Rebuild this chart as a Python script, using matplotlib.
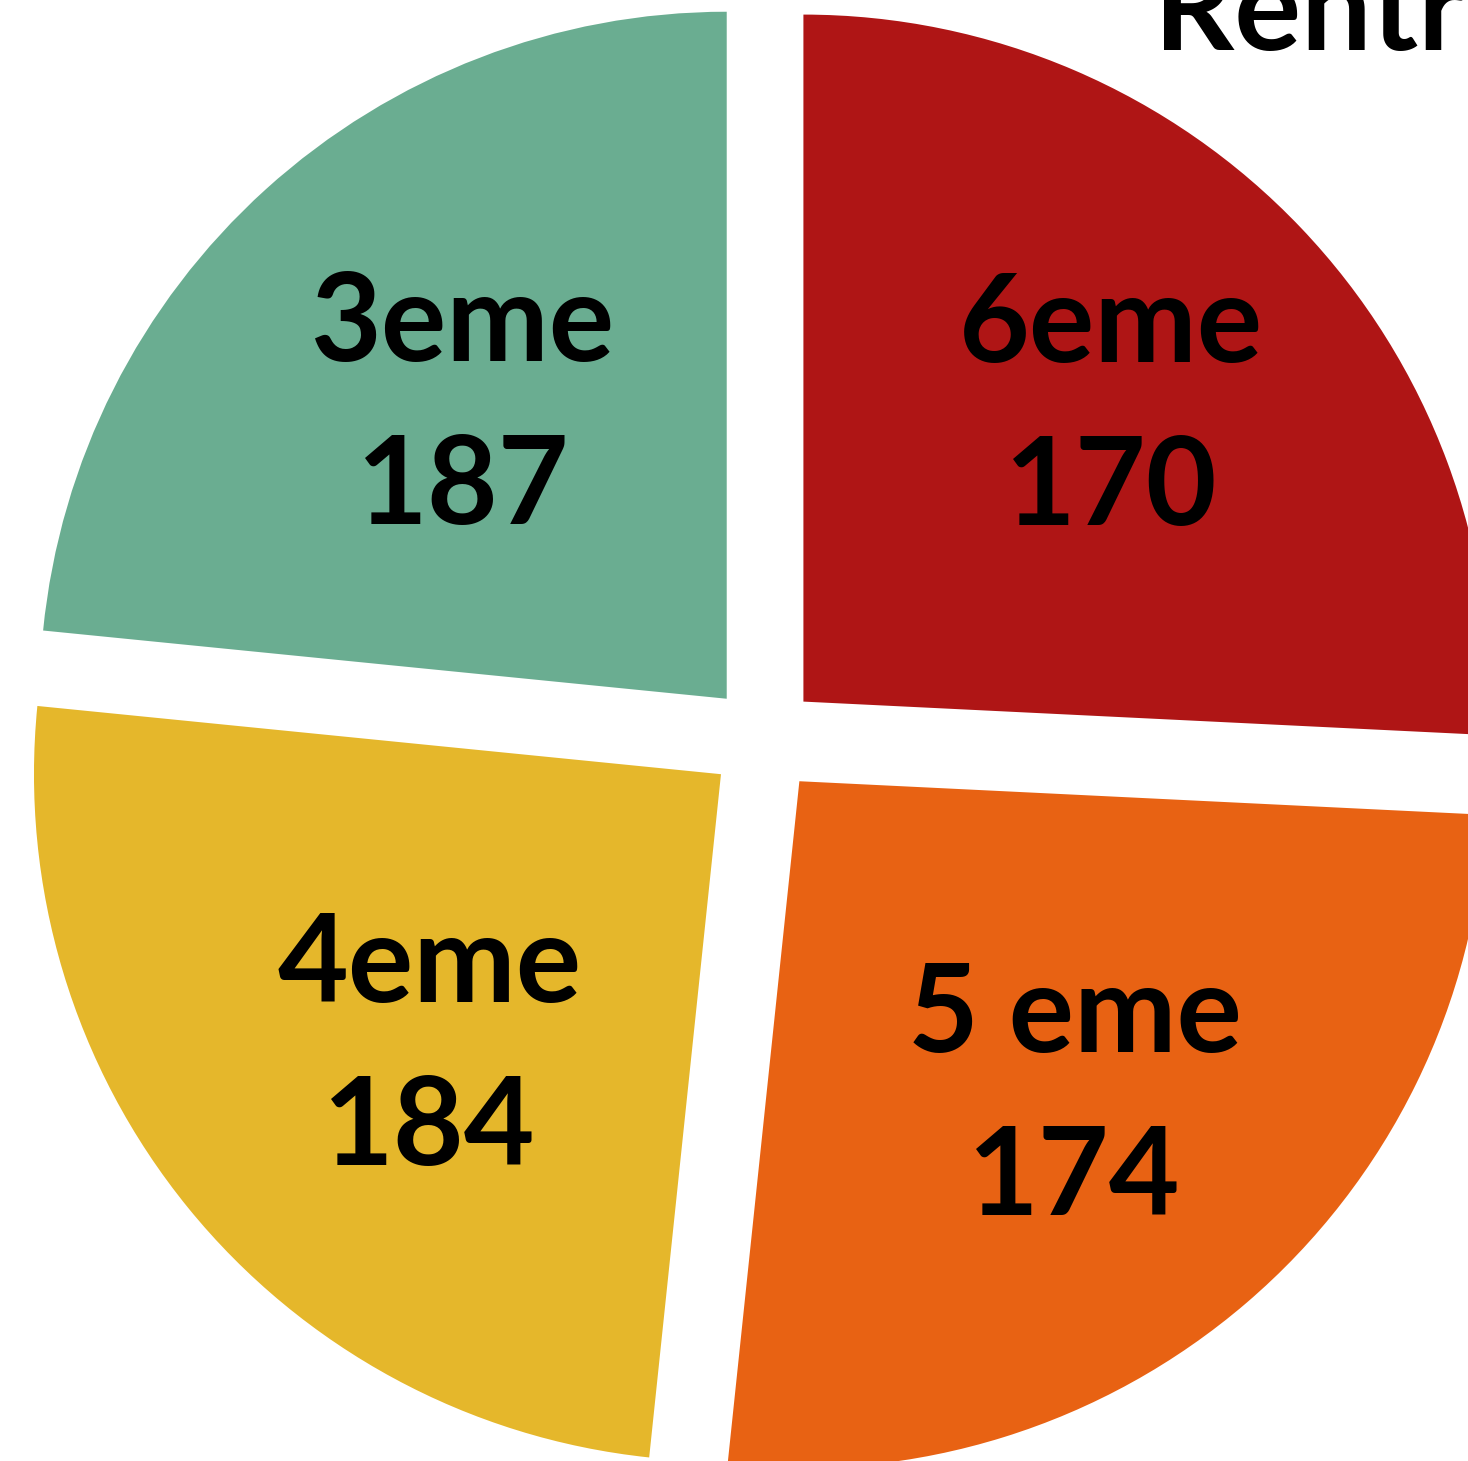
import numpy as np
import matplotlib.pyplot as plt

# class levels, counted pupils (as printed on the chart)
levels = ['3eme', '4eme', '5 eme', '6eme']
counts = [187, 184, 174, 170]
# wedge sizes as actually drawn in the picture (degrees read from the slice edges)
shares = [84.3, 89.7, 93.2, 92.8]
colors = ['#6AAD91', '#E5B72B', '#E86213', '#AF1515']

title = 'Rentrée 2023'

fig = plt.figure(figsize=(14.68, 14.61), dpi=100)
ax = fig.add_axes([0, 0, 1, 1])

wedges, _ = ax.pie(shares, colors=colors, startangle=90, counterclock=True,
                   explode=[0.08] * 4, radius=1,
                   wedgeprops=dict(linewidth=0))

# label placement relative to each wedge's own (exploded) centre
label_r = [0.571, 0.582, 0.611, 0.618]
label_dth = [0.0, 4.1, 0.35, 0.0]
for w, lvl, n, r, dth in zip(wedges, levels, counts, label_r, label_dth):
    th = np.deg2rad((w.theta1 + w.theta2) / 2 + dth)
    cx, cy = w.center
    ax.text(cx + r * np.cos(th), cy + r * np.sin(th), f'{lvl}\n{n}',
            ha='center', va='center', fontsize=88, fontweight='bold',
            family='Lato', linespacing=1.56, color='black')

# the source image is cropped, so the pie runs off the right and bottom edges
ax.set_xlim(-1.1115, 1.0253)
ax.set_ylim(-1.0502, 1.0764)
ax.set_aspect('auto')
ax.axis('off')

fig.text(1154 / 1468, 1 - 50 / 1461, title, fontsize=90, fontweight='bold',
         family='Lato', ha='left', va='baseline')

fig.savefig('out.png', dpi=100, facecolor='white')
